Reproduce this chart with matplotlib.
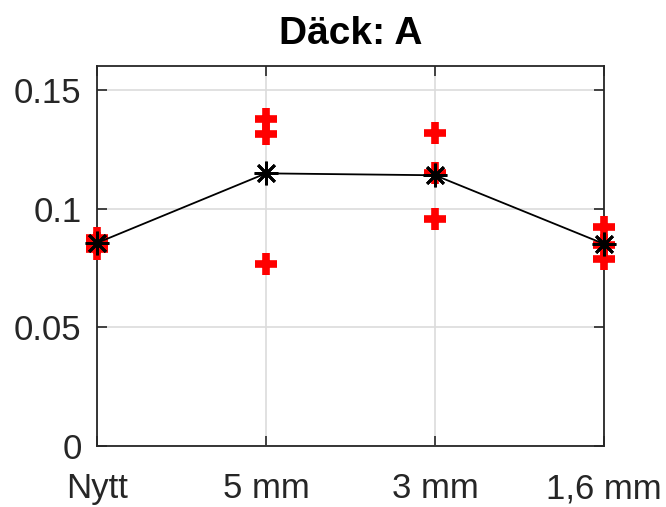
import matplotlib.pyplot as plt

categories = ["Nytt", "5 mm", "3 mm", "1,6 mm"]
# individual measurements per category
samples = [
    [0.0876, 0.0855, 0.0830],
    [0.1375, 0.1315, 0.0767],
    [0.1318, 0.1149, 0.0957],
    [0.0922, 0.0848, 0.0788],
]
means = [0.0855, 0.1148, 0.1140, 0.0851]
yticks = [0, 0.05, 0.1, 0.15]
yticklabels = ["0", "0.05", "0.1", "0.15"]

plt.rcParams["font.family"] = ["Liberation Sans", "DejaVu Sans"]

fig = plt.figure(figsize=(6.66, 5.07), dpi=100)
ax = fig.add_axes([0.1456, 0.1203, 0.7613, 0.7495])

x = list(range(1, len(categories) + 1))
for xi, vals in zip(x, samples):
    ax.plot([xi] * len(vals), vals, linestyle="none", marker="+", color="red",
            markersize=16, markeredgewidth=5.5, clip_on=False, zorder=3)
ax.plot(x, means, color="black", linewidth=1.3, marker=(8, 2, 0), markersize=17,
        markeredgewidth=2, clip_on=False, zorder=4)

ax.set_xlim(1, 4)
ax.set_ylim(0, 0.16)
ax.set_xticks(x)
ax.set_xticklabels(categories)
ax.set_yticks(yticks)
ax.set_yticklabels(yticklabels)
ax.grid(True, color="#dcdcdc", linewidth=1.2)
ax.set_axisbelow(True)
ax.tick_params(direction="in", length=7, width=1.2, labelsize=25,
               colors="#262626", top=True, right=True)
ax.tick_params(axis="x", pad=19)
ax.tick_params(axis="y", pad=11)
for s in ax.spines.values():
    s.set_color("#262626")
    s.set_linewidth(1.3)
ax.set_title("Däck: A", fontsize=28, fontweight="bold", pad=16)

fig.savefig("out.png", dpi=100)
